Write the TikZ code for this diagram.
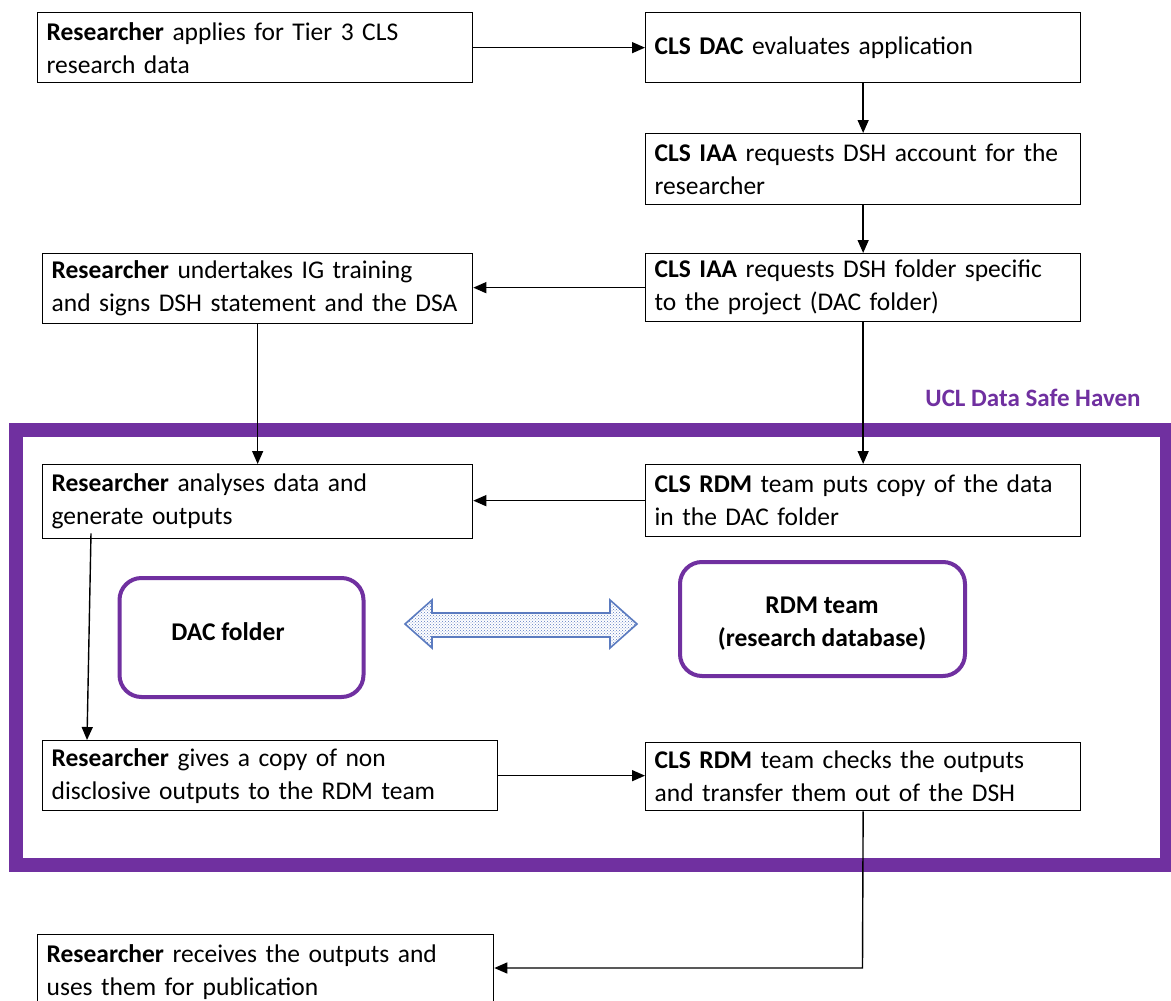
\documentclass[tikz,border=0pt]{standalone}
\usepackage{fontspec}
\setmainfont{Carlito}
\usetikzlibrary{arrows.meta,patterns}
\definecolor{uclpurple}{HTML}{7030A0}
\definecolor{arrblue}{HTML}{5B7BC0}
\begin{document}
\begin{tikzpicture}[x=1pt,y=-1pt,
  flowbox/.style={draw, line width=1.3pt, inner xsep=9pt, inner ysep=0pt,
    align=left, anchor=north west, font=\fontsize{25.5}{33}\selectfont},
  roundbox/.style={draw=uclpurple, line width=4pt, rounded corners=22pt},
  roundtext/.style={align=center, font=\fontsize{25.5}{33}\selectfont\bfseries},
  arr/.style={line width=1.4pt, -{Triangle[length=13pt,width=11pt]}}]
\clip (0,0) rectangle (1171,1001);
\fill[white] (0,0) rectangle (1171,1001);

% boxes
\node[flowbox, text width=417pt, minimum height=70pt] (b1) at (37,12)
  {\textbf{Researcher} applies for Tier 3 CLS\\research data};
\node[flowbox, text width=417pt, minimum height=70pt] (b2) at (645,12)
  {\textbf{CLS DAC} evaluates application};
\node[flowbox, text width=417pt, minimum height=71pt] (b3) at (645,133)
  {\textbf{CLS IAA} requests DSH account for the\\researcher};
\node[flowbox, text width=417pt, minimum height=68pt] (b4) at (645,253)
  {\textbf{CLS IAA} requests DSH folder specific\\to the project (DAC folder)};
\node[flowbox, text width=412pt, minimum height=70pt] (b5) at (42,253)
  {\textbf{Researcher} undertakes IG training\\and signs DSH statement and the DSA};

% safe haven frame
\draw[uclpurple, line width=14pt] (16,430) rectangle (1167,865);
\node[text=uclpurple, font=\fontsize{25}{30}\selectfont\bfseries] (lbl) at (1033,398) {UCL Data Safe Haven};

\node[flowbox, text width=412pt, minimum height=74pt] (b6) at (42,464)
  {\textbf{Researcher} analyses data and\\generate outputs};
\node[flowbox, text width=417pt, minimum height=72pt] (b7) at (645,464)
  {\textbf{CLS RDM} team puts copy of the data\\in the DAC folder};

\node[roundbox, minimum width=244pt, minimum height=119pt] (dac) at (241.5,637.5) {};
\node[roundtext] (dactext) at (228,632) {DAC folder};
\node[roundbox, minimum width=285pt, minimum height=114pt] (rdm) at (822.5,619) {};
\node[roundtext] (rdmtext) at (822,624) {RDM team\\(research database)};

% double arrow
\draw[arrblue, line width=1.6pt, fill=blue!8, pattern=crosshatch dots, pattern color=arrblue]
  (405,624) -- (432,600) -- (432,613) -- (610,613) -- (610,600) -- (637,624)
  -- (610,648) -- (610,637) -- (432,637) -- (432,648) -- cycle;

\node[flowbox, text width=437pt, minimum height=70pt] (b8) at (42,740)
  {\textbf{Researcher} gives a copy of non\\disclosive outputs to the RDM team};
\node[flowbox, text width=417pt, minimum height=68pt] (b9) at (645,742)
  {\textbf{CLS RDM} team checks the outputs\\and transfer them out of the DSH};
\node[flowbox, text width=438pt, minimum height=74pt] (b10) at (37,934)
  {\textbf{Researcher} receives the outputs and\\uses them for publication};

% connectors
\draw[arr] (b1.east) -- (b2.west);
\draw[arr] (b2.south) -- (b3.north);
\draw[arr] (b3.south) -- (b4.north);
\draw[arr] (b4.west) -- (b5.east |- b4.west);
\draw[arr] (b5.south) -- (b5.south |- b6.north);
\draw[arr] (b4.south) -- (b4.south |- b7.north);
\draw[arr] (b7.west) -- (b6.east |- b7.west);
\draw[arr] ([xshift=49pt,yshift=6pt]b6.south west) -- ([xshift=45pt]b8.north west);
\draw[arr] (b8.east) -- (b9.west |- b8.east);
\coordinate (turn) at (862.5,968);
\draw[arr] (b9.south) -- (turn) -- (b10.east |- turn);
\end{tikzpicture}
\end{document}
